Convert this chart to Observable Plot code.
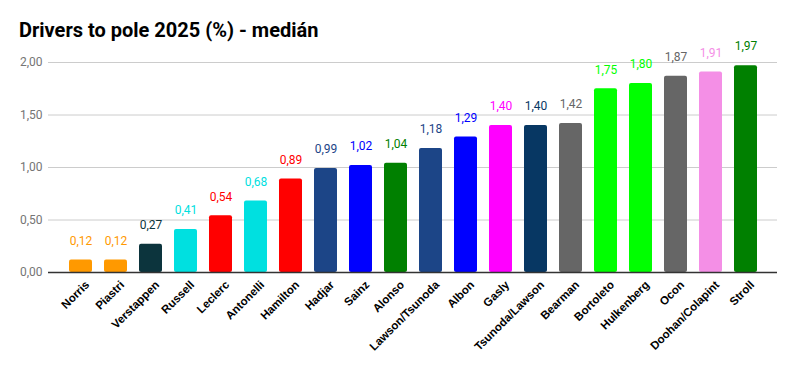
<!DOCTYPE html>
<html>
<head>
<meta charset="utf-8">
<script src="https://cdn.jsdelivr.net/npm/d3@7"></script>
<script src="https://cdn.jsdelivr.net/npm/@observablehq/plot@0.6"></script>
<style>
  html, body { margin: 0; padding: 0; background: #fff; }
  #wrap { position: relative; width: 796px; height: 371px; overflow: hidden; }
  #title { position: absolute; left: 19px; top: 18px; font: bold 20px Roboto, sans-serif; color: #000; white-space: nowrap; }
</style>
</head>
<body>
<div id="wrap">
  <div id="chart"></div>
  <div id="title">Drivers to pole 2025 (%) - medián</div>
</div>
<script>
const drivers = ["Norris","Piastri","Verstappen","Russell","Leclerc","Antonelli","Hamilton","Hadjar","Sainz","Alonso","Lawson/Tsunoda","Albon","Gasly","Tsunoda/Lawson","Bearman","Bortoleto","Hulkenberg","Ocon","Doohan/Colapint","Stroll"];
const values = [0.12,0.12,0.27,0.41,0.54,0.68,0.89,0.99,1.02,1.04,1.18,1.29,1.40,1.40,1.42,1.75,1.80,1.87,1.91,1.97];
const colors = ["#ff9900","#ff9900","#0c343d","#00e0e0","#ff0000","#00e0e0","#ff0000","#1c4587","#0000ff","#008000","#1c4587","#0000ff","#ff00ff","#073763","#666666","#00ff00","#00ff00","#666666","#f48fe6","#008000"];
const yTicks = [0, 0.5, 1, 1.5, 2];

const data = drivers.map((d, i) => ({driver: d, value: values[i], color: colors[i]}));
const fmt = v => v.toFixed(2).replace(".", ",");

const chart = Plot.plot({
  width: 796,
  height: 371,
  marginTop: 62,
  marginBottom: 99,
  marginLeft: 48,
  marginRight: 19,
  style: {fontFamily: "Roboto, sans-serif", background: "#fff"},
  x: {domain: drivers, padding: 0.35, axis: null},
  y: {domain: [0, 2], axis: null},
  marks: [
    Plot.ruleY(yTicks.filter(t => t > 0), {stroke: "#cccccc", strokeWidth: 1}),
    Plot.text(yTicks, {y: d => d, text: d => fmt(d), frameAnchor: "left", textAnchor: "end", dx: -6, fill: "#757575", fontSize: 12}),
    Plot.barY(data, {x: "driver", y: "value", fill: "color", rx: 2}),
    Plot.ruleY([0], {stroke: "#333333", strokeWidth: 1.5}),
    Plot.text(data, {x: "driver", y: "value", text: d => fmt(d.value), fill: "color", dy: -19, fontSize: 12}),
    Plot.text(data, {x: "driver", frameAnchor: "bottom", text: "driver", rotate: -45, textAnchor: "end", dx: 9, dy: 13,
      fontFamily: "'Liberation Sans', Arial, sans-serif", fontWeight: "bold", fontSize: 11.5, fill: "#000"})
  ]
});
document.getElementById("chart").append(chart);
</script>
</body>
</html>
